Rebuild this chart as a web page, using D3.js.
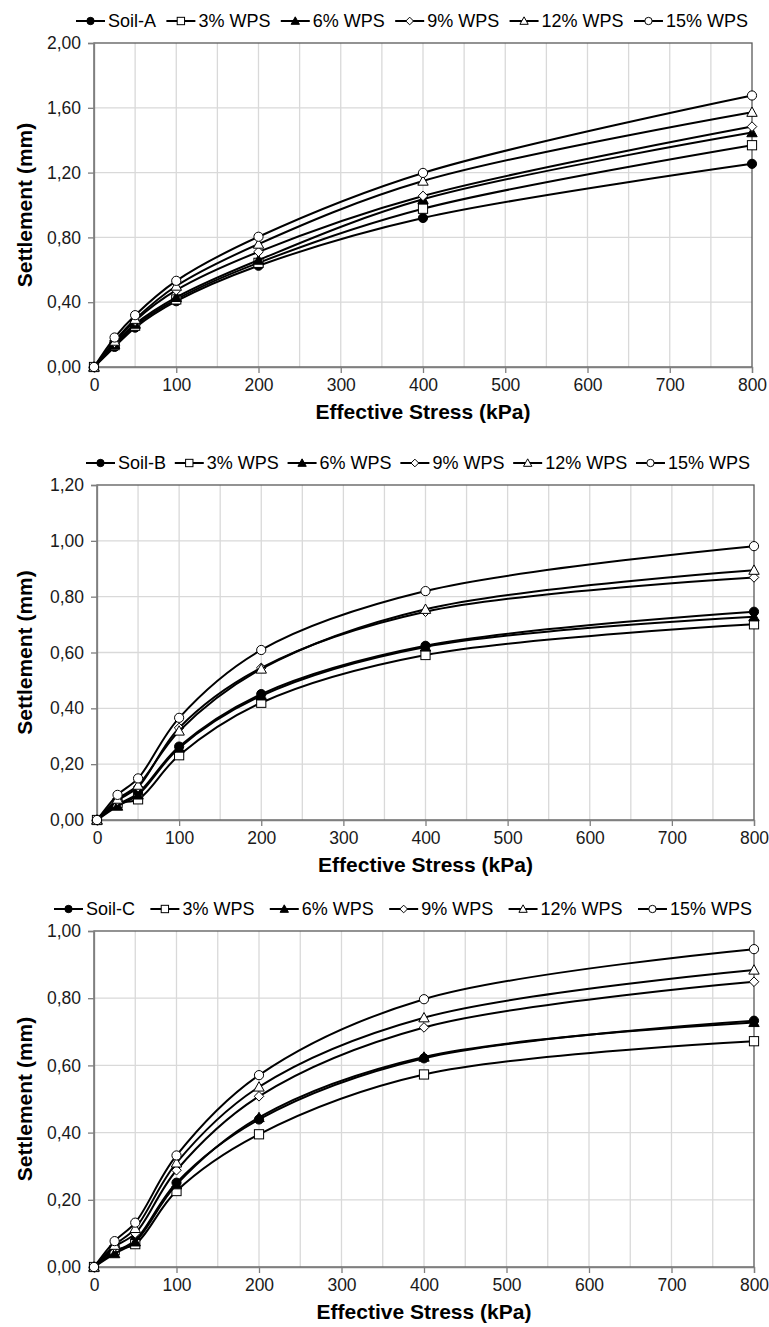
<!DOCTYPE html>
<html>
<head>
<meta charset="utf-8">
<script src="https://cdn.jsdelivr.net/npm/d3@7"></script>
<style>
  body { margin: 0; background: #fff; }
  svg { display: block; font-family: "Liberation Sans", Arial, sans-serif; }
</style>
</head>
<body>
<script>
// effective stress steps (kPa)
var stress = [0, 25, 50, 100, 200, 400, 800];
var wpsNames = ["3% WPS", "6% WPS", "9% WPS", "12% WPS", "15% WPS"];

// settlement (mm) - Soil-A
var soilA  = [0, 0.124, 0.243, 0.406, 0.625, 0.920, 1.254];
var wps3A  = [0, 0.135, 0.255, 0.417, 0.643, 0.977, 1.369];
var wps6A  = [0, 0.140, 0.265, 0.430, 0.660, 1.035, 1.447];
var wps9A  = [0, 0.150, 0.285, 0.474, 0.711, 1.056, 1.484];
var wps12A = [0, 0.160, 0.295, 0.500, 0.759, 1.148, 1.573];
var wps15A = [0, 0.182, 0.320, 0.532, 0.804, 1.198, 1.676];

// Soil-B
var soilB  = [0, 0.055, 0.096, 0.263, 0.451, 0.624, 0.746];
var wps3B  = [0, 0.060, 0.074, 0.232, 0.420, 0.591, 0.701];
var wps6B  = [0, 0.050, 0.090, 0.258, 0.445, 0.620, 0.728];
var wps9B  = [0, 0.070, 0.118, 0.330, 0.545, 0.746, 0.869];
var wps12B = [0, 0.075, 0.125, 0.319, 0.541, 0.755, 0.895];
var wps15B = [0, 0.090, 0.149, 0.366, 0.609, 0.820, 0.981];

// Soil-C
var soilC  = [0, 0.045, 0.080, 0.251, 0.439, 0.621, 0.733];
var wps3C  = [0, 0.050, 0.068, 0.226, 0.395, 0.573, 0.672];
var wps6C  = [0, 0.040, 0.075, 0.245, 0.445, 0.625, 0.728];
var wps9C  = [0, 0.060, 0.100, 0.288, 0.508, 0.713, 0.849];
var wps12C = [0, 0.065, 0.115, 0.310, 0.536, 0.742, 0.884];
var wps15C = [0, 0.077, 0.132, 0.332, 0.571, 0.797, 0.946];

// y tick labels per panel
var yTicksA = [0, 0.4, 0.8, 1.2, 1.6, 2.0];
var yTicksB = [0, 0.2, 0.4, 0.6, 0.8, 1.0, 1.2];
var yTicksC = [0, 0.2, 0.4, 0.6, 0.8, 1.0];
var xTicks = [0, 100, 200, 300, 400, 500, 600, 700, 800];

// marker per series: Soil, 3%, 6%, 9%, 12%, 15%
var markers = ["dot", "square", "tri", "diamond", "openTri", "circle"];

var panels = [
  {soil: "Soil-A", series: [soilA, wps3A, wps6A, wps9A, wps12A, wps15A], yTicks: yTicksA,
   left: 94, right: 752, top: 43, bottom: 367, legendY: 21, legendX: [76, 748]},
  {soil: "Soil-B", series: [soilB, wps3B, wps6B, wps9B, wps12B, wps15B], yTicks: yTicksB,
   left: 97, right: 754, top: 485, bottom: 820, legendY: 463, legendX: [86, 750]},
  {soil: "Soil-C", series: [soilC, wps3C, wps6C, wps9C, wps12C, wps15C], yTicks: yTicksC,
   left: 94, right: 754, top: 931, bottom: 1267, legendY: 909, legendX: [54, 752]}
];

var fmt = function(v) { return d3.format(".2f")(v).replace(".", ","); };

var svg = d3.select("body").append("svg")
    .attr("width", 769)
    .attr("height", 1327);

// draw one marker into g at (x, y)
function drawMarker(g, type, x, y, s) {
  s = s || 1;
  if (type == "dot" || type == "circle") {
    g.append("circle")
      .attr("cx", x).attr("cy", y).attr("r", 4.6 * s)
      .attr("fill", type == "dot" ? "#000" : "#fff")
      .attr("stroke", "#000").attr("stroke-width", 1);
  } else if (type == "square") {
    g.append("rect")
      .attr("x", x - 4.6 * s).attr("y", y - 4.6 * s)
      .attr("width", 9.2 * s).attr("height", 9.2 * s)
      .attr("fill", "#fff").attr("stroke", "#000").attr("stroke-width", 1);
  } else if (type == "tri" || type == "openTri") {
    var h = 5.2 * s;
    g.append("path")
      .attr("d", "M" + x + "," + (y - h) + "L" + (x + h) + "," + (y + h * 0.8) + "L" + (x - h) + "," + (y + h * 0.8) + "Z")
      .attr("fill", type == "tri" ? "#000" : "#fff")
      .attr("stroke", "#000").attr("stroke-width", 1);
  } else if (type == "diamond") {
    var d = 4.8 * s;
    g.append("path")
      .attr("d", "M" + x + "," + (y - d) + "L" + (x + d) + "," + y + "L" + x + "," + (y + d) + "L" + (x - d) + "," + y + "Z")
      .attr("fill", "#fff").attr("stroke", "#000").attr("stroke-width", 1);
  }
}

panels.forEach(function(p) {
  var x = d3.scaleLinear().domain([0, 800]).range([p.left, p.right]);
  var yMax = p.yTicks[p.yTicks.length - 1];
  var y = d3.scaleLinear().domain([0, yMax]).range([p.bottom, p.top]);

  var g = svg.append("g");

  // gridlines
  g.append("g").selectAll("line")
      .data(d3.range(50, 800, 50))
    .enter().append("line")
      .attr("x1", function(d) { return x(d); }).attr("x2", function(d) { return x(d); })
      .attr("y1", p.top).attr("y2", p.bottom)
      .attr("stroke", "#d9d9d9").attr("stroke-width", 1.3);
  g.append("g").selectAll("line")
      .data(p.yTicks.slice(1, -1))
    .enter().append("line")
      .attr("x1", p.left).attr("x2", p.right)
      .attr("y1", function(d) { return y(d); }).attr("y2", function(d) { return y(d); })
      .attr("stroke", "#d9d9d9").attr("stroke-width", 1.3);

  // plot border
  g.append("rect")
      .attr("x", p.left).attr("y", p.top)
      .attr("width", p.right - p.left).attr("height", p.bottom - p.top)
      .attr("fill", "none").attr("stroke", "#595959").attr("stroke-width", 1.3);

  // axes
  var yAxis = g.append("g")
      .attr("transform", "translate(" + p.left + ",0)")
      .call(d3.axisLeft(y).tickValues(p.yTicks).tickFormat(fmt).tickSize(6).tickPadding(7));
  var xAxis = g.append("g")
      .attr("transform", "translate(0," + p.bottom + ")")
      .call(d3.axisBottom(x).tickValues(xTicks).tickFormat(d3.format("d")).tickSize(6).tickPadding(6));
  [yAxis, xAxis].forEach(function(a) {
    a.select(".domain").attr("stroke", "#7f7f7f").attr("stroke-width", 1.3);
    a.selectAll(".tick line").attr("stroke", "#7f7f7f").attr("stroke-width", 1.3);
    a.selectAll("text").attr("font-size", 17.5).attr("fill", "#1a1a1a")
      .attr("font-family", "Liberation Sans, Arial, sans-serif");
  });

  // axis titles
  g.append("text")
      .attr("transform", "translate(32," + ((p.top + p.bottom) / 2) + ") rotate(-90)")
      .attr("text-anchor", "middle")
      .attr("font-size", 21).attr("font-weight", "bold")
      .text("Settlement (mm)");
  g.append("text")
      .attr("x", (p.left + p.right) / 2)
      .attr("y", p.bottom + 52)
      .attr("text-anchor", "middle")
      .attr("font-size", 21).attr("font-weight", "bold")
      .text("Effective Stress (kPa)");

  // series
  var line = d3.line()
      .x(function(d, i) { return x(stress[i]); })
      .y(function(d) { return y(d); })
      .curve(d3.curveCatmullRom.alpha(0.5));

  p.series.forEach(function(vals, k) {
    g.append("path")
        .datum(vals)
        .attr("d", line)
        .attr("fill", "none")
        .attr("stroke", "#000")
        .attr("stroke-width", 2);
    var mg = g.append("g");
    vals.forEach(function(v, i) {
      drawMarker(mg, markers[k], x(stress[i]), y(v));
    });
  });

  // legend, spread between legendX ends
  var names = [p.soil].concat(wpsNames);
  var lg = svg.append("g").attr("font-size", 18)
      .attr("transform", "translate(" + p.legendX[0] + "," + p.legendY + ")");
  var items = [], natural = 0;
  names.forEach(function(n, k) {
    var it = lg.append("g");
    it.append("line")
        .attr("x1", 0).attr("x2", 29).attr("y1", 0).attr("y2", 0)
        .attr("stroke", "#000").attr("stroke-width", 2);
    drawMarker(it, markers[k], 14.5, 0, 0.8);
    var t = it.append("text")
        .attr("x", 32).attr("dy", "0.35em")
        .text(n);
    var w = 32 + t.node().getComputedTextLength();
    items.push({g: it, w: w});
    natural += w;
  });
  var gap = (p.legendX[1] - p.legendX[0] - natural) / (names.length - 1);
  var cx = 0;
  items.forEach(function(it) {
    it.g.attr("transform", "translate(" + cx + ",0)");
    cx += it.w + gap;
  });
});
</script>
</body>
</html>
